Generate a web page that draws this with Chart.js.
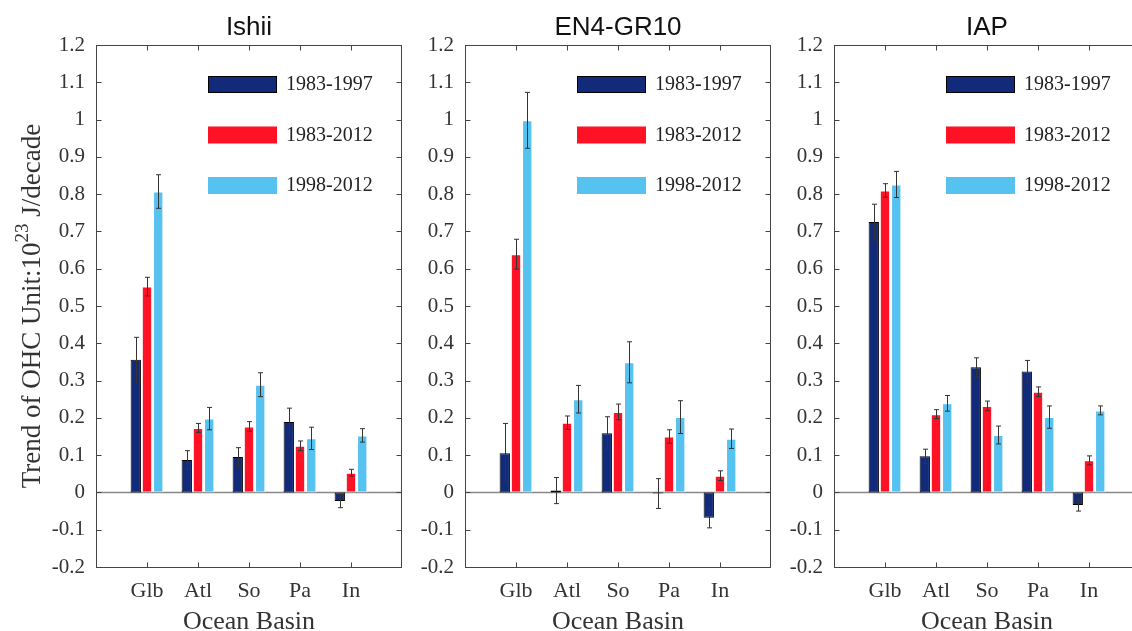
<!DOCTYPE html>
<html>
<head>
<meta charset="utf-8">
<script src="https://cdn.jsdelivr.net/npm/chart.js@4.4.0/dist/chart.umd.min.js"></script>
<style>
html, body { margin: 0; padding: 0; background: #fff; overflow: hidden; width: 1132px; height: 631px; }
canvas { position: absolute; top: 0; }
</style>
</head>
<body>
<canvas id="c1" width="420" height="631" style="left:0px"></canvas>
<canvas id="c2" width="370" height="631" style="left:420px"></canvas>
<canvas id="c3" width="370" height="631" style="left:790px"></canvas>
<script>
const basins = ['Glb', 'Atl', 'So', 'Pa', 'In'];
const periods = ['1983-1997', '1983-2012', '1998-2012'];
const panelTitles = ['Ishii', 'EN4-GR10', 'IAP'];
const yTicks = [-0.2, -0.1, 0, 0.1, 0.2, 0.3, 0.4, 0.5, 0.6, 0.7, 0.8, 0.9, 1, 1.1, 1.2];

// Ishii
const ishii8397 = [0.356, 0.087, 0.095, 0.189, -0.023];
const ishii8312 = [0.552, 0.173, 0.177, 0.125, 0.053];
const ishii9812 = [0.807, 0.198, 0.289, 0.145, 0.153];
const ishiiErr8397 = [0.060, 0.025, 0.025, 0.037, 0.018];
const ishiiErr8312 = [0.025, 0.012, 0.013, 0.013, 0.009];
const ishiiErr9812 = [0.045, 0.030, 0.032, 0.030, 0.018];

// EN4-GR10
const en48397 = [0.105, 0.005, 0.159, -0.003, -0.068];
const en48312 = [0.639, 0.187, 0.216, 0.150, 0.045];
const en49812 = [0.998, 0.250, 0.349, 0.202, 0.144];
const en4Err8397 = [0.080, 0.035, 0.044, 0.040, 0.027];
const en4Err8312 = [0.040, 0.018, 0.021, 0.018, 0.013];
const en4Err9812 = [0.075, 0.037, 0.055, 0.044, 0.026];

// IAP
const iap8397 = [0.725, 0.097, 0.336, 0.324, -0.034];
const iap8312 = [0.810, 0.210, 0.232, 0.270, 0.086];
const iap9812 = [0.826, 0.239, 0.154, 0.202, 0.220];
const iapErr8397 = [0.048, 0.019, 0.025, 0.030, 0.016];
const iapErr8312 = [0.018, 0.012, 0.013, 0.013, 0.012];
const iapErr9812 = [0.035, 0.021, 0.024, 0.030, 0.012];

const barColors = ['#122a7a', '#ff1126', '#56c2f0'];
const barBorders = ['#000000', 'rgba(255,255,255,0.6)', 'rgba(255,255,255,0.6)'];

const serif = '"Liberation Serif", "DejaVu Serif", serif';
const sans = '"Liberation Sans", Arial, sans-serif';

const panelPlugin = {
    id: 'panel',
    beforeDatasetsDraw(chart) {
        const ctx = chart.ctx;
        const a = chart.chartArea;
        const y0 = Math.round(chart.scales.y.getPixelForValue(0)) + 0.5;
        ctx.save();
        ctx.strokeStyle = '#888';
        ctx.lineWidth = 1.5;
        ctx.beginPath();
        ctx.moveTo(a.left, y0);
        ctx.lineTo(a.right, y0);
        ctx.stroke();
        ctx.restore();
    },
    afterDatasetsDraw(chart) {
        // error bars
        const ctx = chart.ctx;
        const yScale = chart.scales.y;
        ctx.save();
        ctx.strokeStyle = '#333';
        ctx.lineWidth = 1;
        chart.data.datasets.forEach((ds, di) => {
            const meta = chart.getDatasetMeta(di);
            meta.data.forEach((el, i) => {
                const v = ds.data[i];
                const e = ds.errors[i];
                if (v === null || e === null) return;
                const x = Math.round(el.x) + 0.5;
                const yt = yScale.getPixelForValue(v + e);
                const yb = yScale.getPixelForValue(v - e);
                ctx.beginPath();
                ctx.moveTo(x, yt); ctx.lineTo(x, yb);
                ctx.moveTo(x - 2.5, yt); ctx.lineTo(x + 2.5, yt);
                ctx.moveTo(x - 2.5, yb); ctx.lineTo(x + 2.5, yb);
                ctx.stroke();
            });
        });
        ctx.restore();
    },
    afterDraw(chart, args, opts) {
        const ctx = chart.ctx;
        const a = chart.chartArea;
        const xScale = chart.scales.x;
        const yScale = chart.scales.y;
        const L = Math.round(a.left) + 0.5, R = Math.round(a.right) - 0.5;
        const T = Math.round(a.top) + 0.5, B = Math.round(a.bottom) + 0.5;
        ctx.save();
        // frame
        ctx.strokeStyle = '#444';
        ctx.lineWidth = 1;
        ctx.strokeRect(L, T, R - L, B - T);
        // inward ticks
        ctx.beginPath();
        yTicks.forEach(v => {
            const y = Math.round(yScale.getPixelForValue(v)) + 0.5;
            ctx.moveTo(L, y); ctx.lineTo(L + 5, y);
            ctx.moveTo(R, y); ctx.lineTo(R - 5, y);
        });
        for (let i = 1; i <= basins.length; i++) {
            const x = Math.round(xScale.getPixelForValue(i)) + 0.5;
            ctx.moveTo(x, B); ctx.lineTo(x, B - 5);
            ctx.moveTo(x, T); ctx.lineTo(x, T + 5);
        }
        ctx.stroke();

        const cx = a.left + 153;
        // title
        ctx.fillStyle = '#111';
        ctx.font = '26px ' + sans;
        ctx.textAlign = 'center';
        ctx.textBaseline = 'alphabetic';
        ctx.fillText(panelTitles[opts.idx], cx, 35);
        // x axis title
        ctx.fillStyle = '#333';
        ctx.font = '26px ' + serif;
        ctx.fillText('Ocean Basin', cx, 629);

        // legend
        ctx.font = '20px ' + serif;
        ctx.textAlign = 'left';
        ctx.textBaseline = 'middle';
        periods.forEach((p, k) => {
            const bx = a.left + 112, by = 76 + k * 50.5;
            ctx.fillStyle = barColors[k];
            ctx.fillRect(bx, by, 69, 17);
            if (k === 0) {
                ctx.strokeStyle = '#000';
                ctx.strokeRect(bx + 0.5, by + 0.5, 68, 16);
            }
            ctx.fillStyle = '#222';
            ctx.fillText(p, bx + 78, by + 9);
        });

        // y axis title on first panel
        if (opts.idx === 0) {
            ctx.translate(31, 306);
            ctx.rotate(-Math.PI / 2);
            ctx.fillStyle = '#333';
            const main = 'Trend of OHC Unit:10';
            const sup = '23';
            const tail = ' J/decade';
            ctx.font = '27px ' + serif;
            const w1 = ctx.measureText(main).width;
            const w3 = ctx.measureText(tail).width;
            ctx.font = '19px ' + serif;
            const w2 = ctx.measureText(sup).width;
            const start = -(w1 + w2 + w3) / 2;
            ctx.textAlign = 'left';
            ctx.textBaseline = 'alphabetic';
            ctx.font = '27px ' + serif;
            ctx.fillText(main, start, 9);
            ctx.fillText(tail, start + w1 + w2, 9);
            ctx.font = '19px ' + serif;
            ctx.fillText(sup, start + w1, -3);
        }
        ctx.restore();
    }
};

function makePanel(id, idx, series, errors, yWidth, padRight) {
    return new Chart(document.getElementById(id), {
        type: 'bar',
        data: {
            labels: ['', ...basins, ''],
            datasets: series.map((s, k) => ({
                label: periods[k],
                data: [null, ...s, null],
                errors: [null, ...errors[k], null],
                backgroundColor: barColors[k],
                borderColor: barBorders[k],
                borderWidth: 1,
                borderSkipped: false,
                barPercentage: 0.92,
                categoryPercentage: 0.66
            }))
        },
        options: {
            responsive: false,
            animation: false,
            devicePixelRatio: 1,
            layout: { padding: { top: 45, right: padRight, bottom: 0, left: 0 } },
            plugins: {
                legend: { display: false },
                tooltip: { enabled: false },
                title: { display: false },
                panel: { idx: idx }
            },
            scales: {
                x: {
                    offset: false,
                    grid: { display: false, drawTicks: false },
                    border: { display: false },
                    ticks: {
                        autoSkip: false, maxRotation: 0, padding: 11, color: '#333',
                        font: { family: serif, size: 22 }
                    },
                    afterFit: s => { s.height = 64; }
                },
                y: {
                    min: -0.2,
                    max: 1.2,
                    grid: { display: false, drawTicks: false },
                    border: { display: false },
                    afterBuildTicks: s => { s.ticks = yTicks.map(v => ({ value: v })); },
                    ticks: {
                        padding: 11, color: '#333',
                        font: { family: serif, size: 21 },
                        callback: v => String(Math.round(v * 10) / 10)
                    },
                    afterFit: s => { s.width = yWidth; }
                }
            }
        },
        plugins: [panelPlugin]
    });
}

makePanel('c1', 0, [ishii8397, ishii8312, ishii9812], [ishiiErr8397, ishiiErr8312, ishiiErr9812], 96, 18);
makePanel('c2', 1, [en48397, en48312, en49812], [en4Err8397, en4Err8312, en4Err9812], 45, 19);
makePanel('c3', 2, [iap8397, iap8312, iap9812], [iapErr8397, iapErr8312, iapErr9812], 44, 20);
</script>
</body>
</html>
